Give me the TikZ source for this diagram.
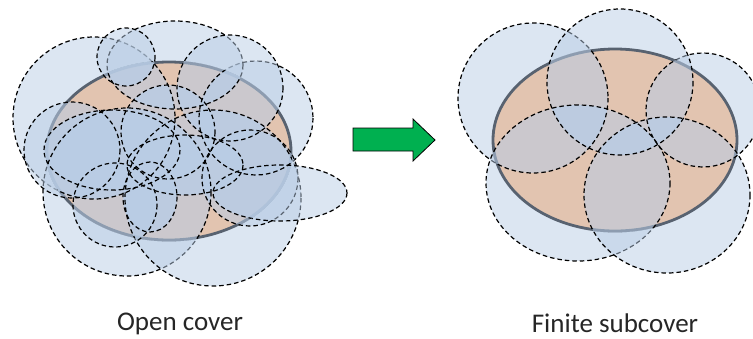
\documentclass[tikz,border=0pt]{standalone}
\usepackage{fontspec}
\setmainfont{Carlito}

\definecolor{coverblue}{RGB}{185,205,229}
\definecolor{setpeach}{RGB}{226,196,176}
\definecolor{setedge}{RGB}{88,98,112}
\definecolor{arrowgreen}{RGB}{0,176,80}

\tikzset{
  coverdisk/.style={fill=coverblue, fill opacity=0.5, draw=black, dash pattern=on 4.5pt off 3pt, line width=1.2pt},
  coveredge/.style={draw=black, dash pattern=on 4.5pt off 3pt, line width=1.2pt},
  lens/.style={fill=coverblue, fill opacity=0.55},
  setbody/.style={fill=setpeach},
  setrim/.style={draw=setedge, line width=2.8pt},
  flowarrow/.style={fill=arrowgreen, draw=black, line width=0.8pt, line join=miter},
  caption/.style={font=\fontsize{27}{32}\selectfont, text=black!85, inner sep=0pt},
}

% cx/cy/rx/ry/rotation of the covering sets
\newcommand\coverL{94/118/81/81/0, 127/192/84/84/0, 213/198/88/88/0, 256/118/57/57/0,
  175/65/68/44/0, 126/57/29/29/0, 230/88/53/53/0, 72/150/48/48/0, 112/150/68/40/0,
  168/132/47/47/0, 185/165/58/30/0, 115/205/42/42/0, 150/197/27/35/0,
  250/178/48/48/0, 280/193/67/28/0}
\newcommand\coverR{533/98/75/75/0, 578/183/92/78/0, 667/195/83/78/0,
  703/110/57/57/0, 620/82/73/73/0}

\begin{document}
\begin{tikzpicture}[x=1pt, y=-1pt]
\useasboundingbox (0,0) rectangle (753,338);

% open cover
\foreach \cx/\cy/\rx/\ry/\rot in \coverL
  \draw[coverdisk, rotate around={\rot:(\cx,\cy)}] (\cx,\cy) ellipse [x radius=\rx, y radius=\ry];
\fill[setbody] (169,151) ellipse [x radius=122, y radius=89];
\draw[setrim] (169,151) ellipse [x radius=122, y radius=89];
\begin{scope}
  \clip (169,151) ellipse [x radius=123.6, y radius=90.6];
  \foreach \cx/\cy/\rx/\ry/\rot [count=\i] in \coverL {
    \begin{scope}
      \clip[rotate around={\rot:(\cx,\cy)}] (\cx,\cy) ellipse [x radius=\rx, y radius=\ry];
      \foreach \dx/\dy/\sx/\sy/\tur [count=\j] in \coverL {
        \ifnum\j>\i
          \fill[lens, rotate around={\tur:(\dx,\dy)}] (\dx,\dy) ellipse [x radius=\sx, y radius=\sy];
        \fi
      }
    \end{scope}
  }
  \foreach \cx/\cy/\rx/\ry/\rot in \coverL
    \draw[coveredge, rotate around={\rot:(\cx,\cy)}] (\cx,\cy) ellipse [x radius=\rx, y radius=\ry];
\end{scope}

% finite subcover
\foreach \cx/\cy/\rx/\ry/\rot in \coverR
  \draw[coverdisk, rotate around={\rot:(\cx,\cy)}] (\cx,\cy) ellipse [x radius=\rx, y radius=\ry];
\fill[setbody] (615,140) ellipse [x radius=122, y radius=91];
\draw[setrim] (615,140) ellipse [x radius=122, y radius=91];
\begin{scope}
  \clip (615,140) ellipse [x radius=123.6, y radius=92.6];
  \foreach \cx/\cy/\rx/\ry/\rot [count=\i] in \coverR {
    \begin{scope}
      \clip[rotate around={\rot:(\cx,\cy)}] (\cx,\cy) ellipse [x radius=\rx, y radius=\ry];
      \foreach \dx/\dy/\sx/\sy/\tur [count=\j] in \coverR {
        \ifnum\j>\i
          \fill[lens, rotate around={\tur:(\dx,\dy)}] (\dx,\dy) ellipse [x radius=\sx, y radius=\sy];
        \fi
      }
    \end{scope}
  }
  \foreach \cx/\cy/\rx/\ry/\rot in \coverR
    \draw[coveredge, rotate around={\rot:(\cx,\cy)}] (\cx,\cy) ellipse [x radius=\rx, y radius=\ry];
\end{scope}

\draw[flowarrow] (353,128) -- (413,128) -- (413,119) -- (435,140) -- (413,161) -- (413,151) -- (353,151) -- cycle;

\node[caption, anchor=base] (opencov) at (180,330) {Open cover};
\node[caption, anchor=base] (finsub) at (615,332) {Finite subcover};
\end{tikzpicture}
\end{document}
